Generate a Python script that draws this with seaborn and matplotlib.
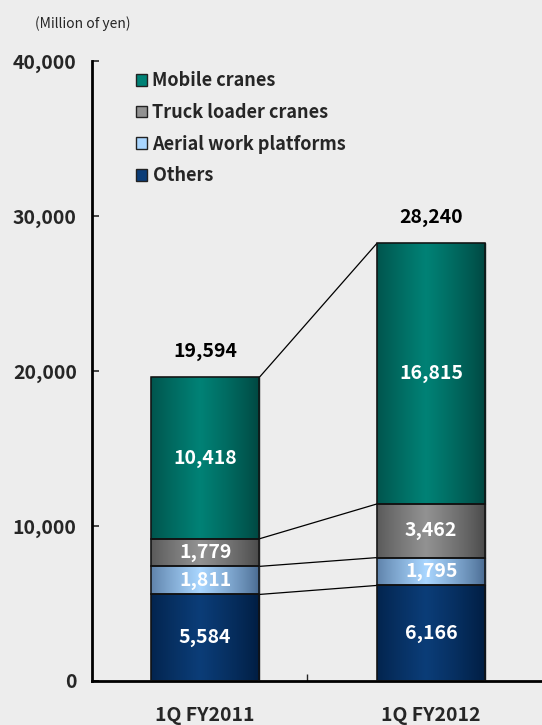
import numpy as np
import matplotlib
matplotlib.use("Agg")
import matplotlib.pyplot as plt
import matplotlib.colors as mcolors
from matplotlib.patches import Rectangle
from matplotlib.ticker import FuncFormatter
import seaborn as sns

# data
periods = ["1Q FY2011", "1Q FY2012"]
others = [5584, 6166]
aerial = [1811, 1795]
truck = [1779, 3462]
mobile = [10418, 16815]
totals = [19594, 28240]
y_ticks = [0, 10000, 20000, 30000, 40000]

series = [
    ("Others", others, "#001c40", "#0b3d78"),
    ("Aerial work platforms", aerial, "#46678e", "#a9d6ff"),
    ("Truck loader cranes", truck, "#474747", "#929292"),
    ("Mobile cranes", mobile, "#00453f", "#008276"),
]

sns.set_theme(style="white")
plt.rcParams["font.family"] = ["Noto Sans CJK JP", "DejaVu Sans"]

bg = "#ededed"
fig = plt.figure(figsize=(5.42, 7.25), dpi=100, facecolor=bg)
ax = fig.add_axes([92 / 542, 44 / 725, 450 / 542, 620 / 725])
ax.set_facecolor(bg)

bw = 0.48
bottom = np.zeros(len(periods))
tops = []
for name, vals, c_edge, c_mid in series:
    sns.barplot(x=periods, y=vals, bottom=bottom, color=c_mid, width=bw,
                ax=ax, edgecolor="#1a1a1a", linewidth=1, saturation=1)
    bottom = bottom + np.array(vals)
    tops.append(bottom.copy())

# gradient fill for each bar segment
t = np.linspace(0, 1, 200)
prof = np.clip(1 - np.abs(t - 0.45) / 0.55, 0, 1) ** 0.8
for patch, (name, vals, c_edge, c_mid) in zip(
        ax.patches, [s for s in series for _ in periods]):
    x0, y0 = patch.get_x(), patch.get_y()
    w, h = patch.get_width(), patch.get_height()
    e = np.array(mcolors.to_rgb(c_edge))
    m = np.array(mcolors.to_rgb(c_mid))
    img = e[None, None, :] + (m - e)[None, None, :] * prof[None, :, None]
    im = ax.imshow(img, extent=[x0, x0 + w, y0, y0 + h], aspect="auto",
                   zorder=2.5, interpolation="bilinear")
    im.set_clip_path(patch)
    ax.add_patch(Rectangle((x0, y0), w, h, fill=False, edgecolor="#111111",
                           linewidth=1.1, zorder=3))

# segment labels
bottom = np.zeros(len(periods))
for name, vals, c_edge, c_mid in series:
    for i, v in enumerate(vals):
        ax.text(i, bottom[i] + v / 2, f"{v:,}", ha="center", va="center",
                color="white", fontsize=14, fontweight="bold", zorder=4)
    bottom = bottom + np.array(vals)

for i, v in enumerate(totals):
    ax.annotate(f"{v:,}", (i, v), xytext=(0, 18.5), textcoords="offset points",
                ha="center", va="center", fontsize=14, fontweight="bold",
                color="black")

# connecting lines
for top in tops:
    ax.plot([bw / 2, 1 - bw / 2], [top[0], top[1]], color="black", lw=0.9,
            zorder=2)

ax.set_xlim(-0.5, 1.49)
ax.set_ylim(0, 40000)
ax.set_yticks(y_ticks)
ax.yaxis.set_major_formatter(FuncFormatter(lambda v, p: f"{int(v):,}"))
ax.set_xticks([0, 1])
ax.set_xticklabels(periods)
ax.set_xticks([0.45], minor=True)
ax.tick_params(axis="y", direction="in", length=5, width=1.2, pad=11,
               labelsize=14, left=True)
ax.tick_params(axis="x", which="major", length=0, pad=18, labelsize=14)
ax.tick_params(axis="x", which="minor", direction="in", length=5, width=1,
               bottom=True)
for lab in ax.get_yticklabels() + ax.get_xticklabels():
    lab.set_fontweight("bold")
for s in ["top", "right"]:
    ax.spines[s].set_visible(False)
for s in ["left", "bottom"]:
    ax.spines[s].set_color("black")
    ax.spines[s].set_linewidth(2)
ax.set_xlabel("")
ax.set_ylabel("")

# legend
handles = [Rectangle((0, 0), 1, 1, facecolor=c_mid, edgecolor="#222222",
                     linewidth=1) for _, _, _, c_mid in series][::-1]
labels = [n for n, _, _, _ in series][::-1]
leg = fig.legend(handles, labels, loc="upper left",
                 bbox_to_anchor=(120 / 542, 1 - 55 / 725), frameon=False,
                 handlelength=0.6, handleheight=0.6, handletextpad=0.3,
                 labelspacing=0.7, prop={"size": 13, "weight": "bold"})

fig.text(35 / 542, 1 - 24 / 725, "(Million of yen)", fontsize=10,
         ha="left", va="center")

fig.savefig("out.png", dpi=100, facecolor=bg)
